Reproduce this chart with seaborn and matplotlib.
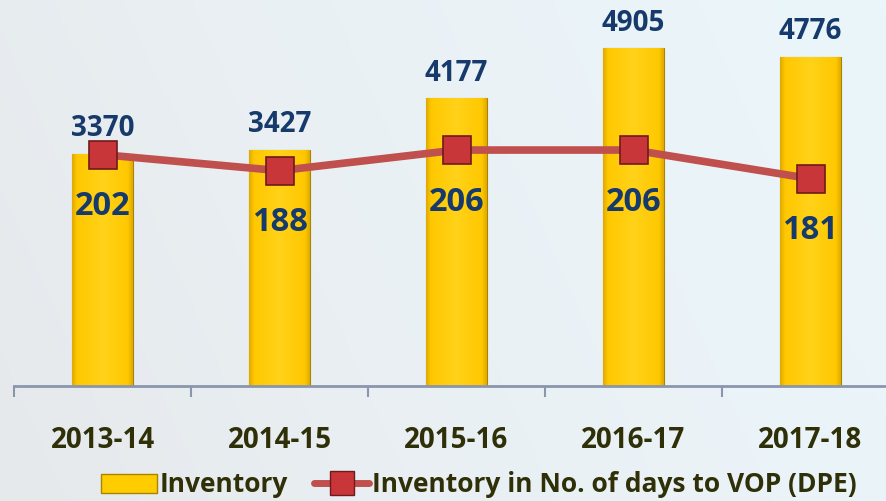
import numpy as np
import matplotlib
matplotlib.use("Agg")
import matplotlib.pyplot as plt
import seaborn as sns
from matplotlib.patches import Patch
from matplotlib.lines import Line2D
from matplotlib.colors import LinearSegmentedColormap

# ==============================
# DATA
# ==============================
years = ["2013-14", "2014-15", "2015-16", "2016-17", "2017-18"]
inventory = [3370, 3427, 4177, 4905, 4776]
days_dpe = [202, 188, 206, 206, 181]

NAVY = "#163a6b"
OLIVE = "#2f2f08"
LINE_RED = "#c0504d"

sns.set_style("white")
plt.rcParams["font.family"] = ["Open Sans", "DejaVu Sans"]

fig = plt.figure(figsize=(8.87, 5.01), dpi=100)

# background gradient
bg = fig.add_axes([0, 0, 1, 1], zorder=-10)
bg_cmap = LinearSegmentedColormap.from_list("bg", ["#e6e9ec", "#eaf1f5", "#eaf6fb"])
xx = np.linspace(0, 1, 256)
yy = np.linspace(0, 1, 64)
grad = (xx[None, :] * 0.8 + yy[:, None] * 0.2)
bg.imshow(grad, aspect="auto", cmap=bg_cmap, extent=[0, 1, 0, 1], origin="lower")
bg.axis("off")

# ==============================
# BARS
# ==============================
ax = fig.add_axes([14 / 887, 115 / 501, 885 / 887, 386 / 501])
ax.set_facecolor("none")

sns.barplot(x=years, y=inventory, color="#ffcc00", width=0.34,
            edgecolor="#a88400", linewidth=0.8, ax=ax, zorder=2)

bar_cmap = LinearSegmentedColormap.from_list(
    "gold", [(0, "#e0aa00"), (0.08, "#ffc800"), (0.5, "#ffd21a"),
             (0.92, "#ffc800"), (1, "#e0aa00")])
hgrad = np.linspace(0, 1, 128)[None, :]
for patch in ax.patches:
    x0, y0 = patch.get_x(), patch.get_y()
    w, h = patch.get_width(), patch.get_height()
    im = ax.imshow(hgrad, aspect="auto", cmap=bar_cmap,
                   extent=[x0, x0 + w, y0, y0 + h], zorder=2.5)
    im.set_clip_path(patch)
ax.set_xlim(-0.5, 4.5)
ax.set_ylim(0, 5600)

for i, v in enumerate(inventory):
    ax.text(i, v + 150, str(v), ha="center", va="bottom",
            fontsize=20, fontweight="bold", color=NAVY, zorder=6)

ax.set_yticks([])
ax.set_xticks([])
ax.set_xticks(np.arange(-0.5, 5.0, 1.0), minor=True)
ax.tick_params(axis="x", which="minor", bottom=True, length=8, width=1.5,
               color="#8a96ad", direction="out")
for s in ["left", "right", "top"]:
    ax.spines[s].set_visible(False)
ax.spines["bottom"].set_color("#8a96ad")
ax.spines["bottom"].set_linewidth(2)

for i, yr in enumerate(years):
    ax.text(i, -0.14, yr, transform=ax.get_xaxis_transform(),
            ha="center", va="center", fontsize=20,
            fontweight="bold", color=OLIVE)

# ==============================
# LINE (secondary axis)
# ==============================
ax2 = ax.twinx()
sns.lineplot(x=years, y=days_dpe, color=LINE_RED, linewidth=5.5,
             marker="s", markersize=19.5, markerfacecolor="#c8363a",
             markeredgecolor="#6e1b1b", markeredgewidth=1.2,
             ax=ax2, zorder=5)
ax2.set_ylim(0, 337)
ax2.set_xlim(-0.5, 4.5)
ax2.set_yticks([])
ax2.set_ylabel("")
for s in ax2.spines.values():
    s.set_visible(False)

for i, v in enumerate(days_dpe):
    ax2.text(i, v - 31, str(v), ha="center", va="top",
             fontsize=23.5, fontweight="bold", color=NAVY, zorder=6)

# ==============================
# LEGEND
# ==============================
handles = [
    Patch(facecolor="#ffcc00", edgecolor="#a88400"),
    Line2D([0], [0], color=LINE_RED, linewidth=5, marker="s",
           markersize=17, markerfacecolor="#c8363a",
           markeredgecolor="#6e1b1b"),
]
labels = ["Inventory", "Inventory in No. of days to VOP (DPE)"]
leg = fig.legend(handles, labels, loc="center", ncol=2,
                 bbox_to_anchor=(0.54, 16 / 501), frameon=False,
                 handlelength=2.1, handletextpad=0.1, columnspacing=1.0,
                 prop={"size": 19, "weight": "bold"})
for t in leg.get_texts():
    t.set_color(OLIVE)

fig.savefig("out.png", dpi=100)
